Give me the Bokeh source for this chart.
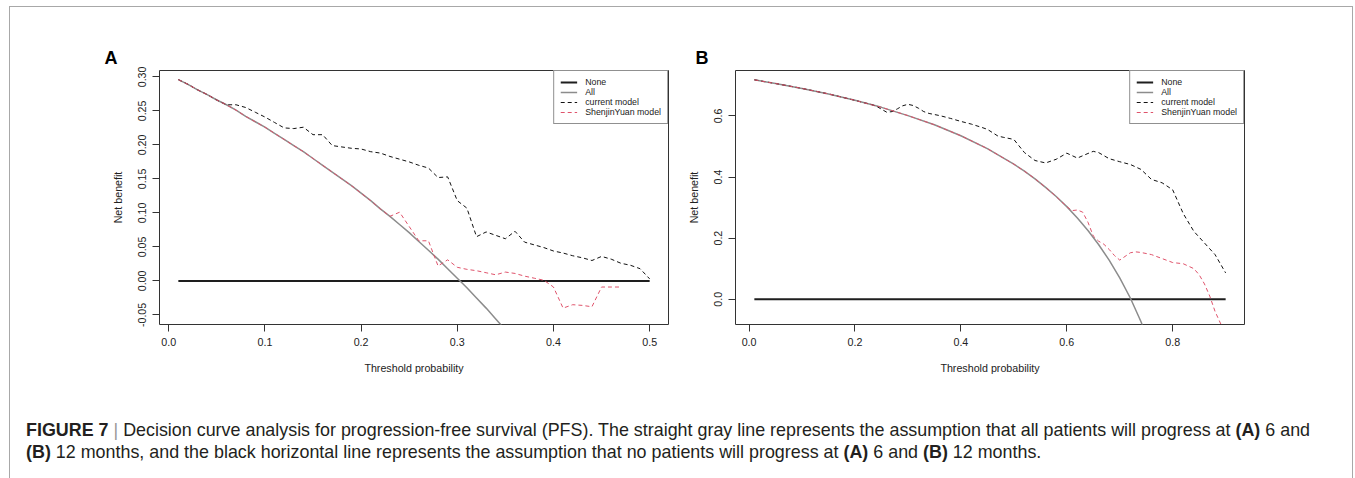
from bokeh.plotting import figure
from bokeh.models import Range1d, FixedTicker, Legend, LegendItem, Div
from bokeh.layouts import row, column
from bokeh.embed import file_html
from bokeh.resources import INLINE

FONT = "Liberation Sans"

# ---------------- Panel A (6 months) ----------------
thr_a_none = [0.01, 0.50]
nb_a_none = [0.0, 0.0]

thr_a_all = [0.01, 0.02, 0.03, 0.04, 0.05, 0.06, 0.07, 0.08, 0.09, 0.10, 0.11, 0.12,
             0.13, 0.14, 0.15, 0.16, 0.17, 0.18, 0.19, 0.20, 0.21, 0.22, 0.23, 0.24,
             0.25, 0.26, 0.27, 0.28, 0.29, 0.30, 0.31, 0.32, 0.33, 0.34, 0.35, 0.36]
nb_a_all = [0.296, 0.289, 0.281, 0.274, 0.266, 0.259, 0.251, 0.242, 0.234, 0.226, 0.217, 0.208,
            0.199, 0.190, 0.180, 0.170, 0.160, 0.150, 0.140, 0.129, 0.118, 0.106, 0.095, 0.083,
            0.071, 0.058, 0.045, 0.032, 0.018, 0.004, -0.010, -0.025, -0.040, -0.056, -0.072, -0.089]

thr_a_cur = [0.01, 0.02, 0.03, 0.04, 0.05, 0.06, 0.07, 0.08, 0.09, 0.10, 0.11, 0.12, 0.13,
             0.14, 0.15, 0.16, 0.17, 0.18, 0.19, 0.20, 0.21, 0.22, 0.23, 0.24, 0.25, 0.26,
             0.27, 0.28, 0.29, 0.30, 0.31, 0.32, 0.33, 0.34, 0.35, 0.36, 0.37, 0.38, 0.39,
             0.40, 0.41, 0.42, 0.43, 0.44, 0.45, 0.46, 0.47, 0.48, 0.49, 0.50]
nb_a_cur = [0.296, 0.289, 0.281, 0.274, 0.266, 0.259, 0.259, 0.255, 0.248, 0.241, 0.233, 0.225, 0.224,
            0.226, 0.215, 0.215, 0.199, 0.197, 0.195, 0.194, 0.190, 0.188, 0.183, 0.179, 0.175, 0.170,
            0.166, 0.152, 0.153, 0.118, 0.107, 0.065, 0.072, 0.067, 0.062, 0.073, 0.057, 0.053, 0.049,
            0.044, 0.041, 0.037, 0.034, 0.030, 0.036, 0.032, 0.026, 0.023, 0.018, 0.003]

thr_a_sjy = [0.01, 0.02, 0.03, 0.04, 0.05, 0.06, 0.07, 0.08, 0.09, 0.10, 0.11, 0.12, 0.13,
             0.14, 0.15, 0.16, 0.17, 0.18, 0.19, 0.20, 0.21, 0.22, 0.23, 0.24, 0.25, 0.26,
             0.27, 0.28, 0.29, 0.30, 0.31, 0.32, 0.33, 0.34, 0.35, 0.36, 0.37, 0.38, 0.39,
             0.40, 0.41, 0.42, 0.43, 0.44, 0.45, 0.46, 0.47]
nb_a_sjy = [0.296, 0.289, 0.281, 0.274, 0.266, 0.259, 0.251, 0.242, 0.234, 0.226, 0.217, 0.208, 0.199,
            0.190, 0.180, 0.170, 0.160, 0.150, 0.140, 0.129, 0.118, 0.106, 0.095, 0.101, 0.080, 0.059,
            0.059, 0.022, 0.031, 0.020, 0.017, 0.015, 0.012, 0.009, 0.013, 0.011, 0.007, 0.004, 0.001,
            -0.009, -0.040, -0.035, -0.036, -0.038, -0.009, -0.009, -0.009]

xticks_a = [0.0, 0.1, 0.2, 0.3, 0.4, 0.5]
xlabels_a = ["0.0", "0.1", "0.2", "0.3", "0.4", "0.5"]
yticks_a = [-0.05, 0.0, 0.05, 0.10, 0.15, 0.20, 0.25, 0.30]
ylabels_a = ["-0.05", "0.00", "0.05", "0.10", "0.15", "0.20", "0.25", "0.30"]

# ---------------- Panel B (12 months) ----------------
thr_b_none = [0.01, 0.90]
nb_b_none = [0.0, 0.0]

thr_b_all = [0.01, 0.05, 0.10, 0.15, 0.20, 0.25, 0.30, 0.35, 0.40, 0.45, 0.50, 0.52, 0.54,
             0.56, 0.58, 0.60, 0.62, 0.64, 0.66, 0.68, 0.70, 0.72, 0.74, 0.76]
nb_b_all = [0.718, 0.706, 0.690, 0.672, 0.651, 0.628, 0.601, 0.571, 0.535, 0.493, 0.442, 0.419, 0.394,
            0.366, 0.336, 0.303, 0.266, 0.225, 0.179, 0.128, 0.070, 0.004, -0.073, -0.163]

thr_b_cur = [0.01, 0.05, 0.10, 0.15, 0.20, 0.22, 0.23, 0.24, 0.25, 0.26, 0.27, 0.28, 0.29,
             0.30, 0.31, 0.32, 0.33, 0.34, 0.36, 0.38, 0.40, 0.42, 0.44, 0.45, 0.47, 0.48,
             0.50, 0.52, 0.54, 0.56, 0.58, 0.60, 0.62, 0.64, 0.65, 0.66, 0.68, 0.70, 0.72,
             0.74, 0.76, 0.78, 0.80, 0.82, 0.84, 0.86, 0.88, 0.90]
nb_b_cur = [0.718, 0.706, 0.690, 0.672, 0.651, 0.642, 0.638, 0.632, 0.622, 0.612, 0.614, 0.623, 0.633,
            0.638, 0.634, 0.625, 0.614, 0.608, 0.601, 0.592, 0.582, 0.573, 0.562, 0.556, 0.534, 0.530,
            0.523, 0.480, 0.454, 0.446, 0.458, 0.478, 0.462, 0.477, 0.484, 0.480, 0.460, 0.450, 0.441,
            0.425, 0.392, 0.381, 0.358, 0.280, 0.222, 0.184, 0.146, 0.086]

thr_b_sjy = [0.01, 0.05, 0.10, 0.15, 0.20, 0.25, 0.30, 0.35, 0.40, 0.45, 0.50, 0.52, 0.54,
             0.56, 0.58, 0.60, 0.61, 0.62, 0.63, 0.64, 0.65, 0.66, 0.67, 0.68, 0.69, 0.70,
             0.71, 0.72, 0.73, 0.74, 0.76, 0.78, 0.80, 0.82, 0.84, 0.85, 0.86, 0.87, 0.88,
             0.89, 0.90]
nb_b_sjy = [0.718, 0.706, 0.690, 0.672, 0.651, 0.628, 0.601, 0.571, 0.535, 0.493, 0.442, 0.419, 0.394,
            0.366, 0.336, 0.303, 0.290, 0.292, 0.285, 0.252, 0.207, 0.190, 0.180, 0.163, 0.143, 0.128,
            0.140, 0.152, 0.155, 0.153, 0.146, 0.133, 0.120, 0.116, 0.100, 0.080, 0.050, 0.010, -0.040,
            -0.078, -0.110]

xticks_b = [0.0, 0.2, 0.4, 0.6, 0.8]
xlabels_b = ["0.0", "0.2", "0.4", "0.6", "0.8"]
yticks_b = [0.0, 0.2, 0.4, 0.6]
ylabels_b = ["0.0", "0.2", "0.4", "0.6"]

series_names = ["None", "All", "current model", "ShenjinYuan model"]

COL_NONE = "#1e1e1e"
COL_ALL = "#8c8c8c"
COL_CUR = "#111111"
COL_SJY = "#DF536B"
TXT = "#222222"


def panel(letter, title_offset, none, allc, cur, sjy, xr, yr, xt, xl, yt, yl, width, mbl, mbr):
    p = figure(width=width, height=392, x_range=Range1d(*xr), y_range=Range1d(*yr),
               output_backend="svg", toolbar_location=None,
               min_border_left=mbl, min_border_right=mbr, min_border_top=70, min_border_bottom=68)
    p.border_fill_color = None
    p.background_fill_color = "white"
    p.outline_line_color = "#333333"
    p.outline_line_width = 1
    p.xgrid.visible = False
    p.ygrid.visible = False

    r_none = p.line(none[0], none[1], line_color=COL_NONE, line_width=2)
    r_all = p.line(allc[0], allc[1], line_color=COL_ALL, line_width=1.5)
    r_cur = p.line(cur[0], cur[1], line_color=COL_CUR, line_width=1, line_dash="4 3")
    r_sjy = p.line(sjy[0], sjy[1], line_color=COL_SJY, line_width=1, line_dash="4 3")

    for ax, ticks, labels in ((p.xaxis, xt, xl), (p.yaxis, yt, yl)):
        ax.ticker = FixedTicker(ticks=ticks)
        ax.major_label_overrides = dict(zip(ticks, labels))
        ax.axis_line_color = None
        ax.major_tick_line_color = "#333333"
        ax.major_tick_out = 7
        ax.major_tick_in = 0
        ax.minor_tick_line_color = None
        ax.major_label_text_font = FONT
        ax.major_label_text_font_size = "10.7px"
        ax.major_label_text_color = TXT
        ax.major_label_standoff = 6
        ax.axis_label_text_font = FONT
        ax.axis_label_text_font_size = "10.7px"
        ax.axis_label_text_font_style = "normal"
        ax.axis_label_text_color = TXT
    p.xaxis.axis_label = "Threshold probability"
    p.yaxis.axis_label = "Net benefit"
    p.xaxis.axis_label_standoff = 13
    p.yaxis.axis_label_standoff = 12
    p.yaxis.major_label_orientation = "vertical"

    p.title.text = letter
    p.title.text_font = FONT
    p.title.text_font_size = "18px"
    p.title.text_font_style = "bold"
    p.title.text_color = "#000000"
    p.title.align = "left"
    p.title.offset = title_offset
    p.title.standoff = 5

    legend = Legend(items=[LegendItem(label=series_names[0], renderers=[r_none]),
                           LegendItem(label=series_names[1], renderers=[r_all]),
                           LegendItem(label=series_names[2], renderers=[r_cur]),
                           LegendItem(label=series_names[3], renderers=[r_sjy])],
                    location="top_right", margin=0, padding=6, spacing=0,
                    label_height=10, glyph_height=10, glyph_width=17, label_standoff=8,
                    label_text_font=FONT, label_text_font_size="8.8px", label_text_color=TXT,
                    border_line_color="#222222", border_line_width=1,
                    background_fill_color="white", background_fill_alpha=1)
    p.add_layout(legend)
    return p


pA = panel("A", -55, (thr_a_none, nb_a_none), (thr_a_all, nb_a_all), (thr_a_cur, nb_a_cur),
           (thr_a_sjy, nb_a_sjy), (-0.0096, 0.5196), (-0.0641, 0.3094),
           xticks_a, xlabels_a, yticks_a, ylabels_a, 672, 159, 4)
pB = panel("B", -40, (thr_b_none, nb_b_none), (thr_b_all, nb_b_all), (thr_b_cur, nb_b_cur),
           (thr_b_sjy, nb_b_sjy), (-0.0256, 0.9356), (-0.0828, 0.7486),
           xticks_b, xlabels_b, yticks_b, ylabels_b, 667, 63, 95)

caption_html = (
    '<div style="position:fixed;left:9px;top:6px;width:1344px;height:600px;'
    'border:1px solid #a8a8a8;border-bottom:none;pointer-events:none;"></div>'
    '<div style="font-family:\'Liberation Sans\',Arial,sans-serif;font-size:17.9px;line-height:22px;'
    'color:#231f20;padding-left:21px;padding-top:22px;white-space:nowrap;">'
    '<b>FIGURE 7</b> <span style="color:#999">|</span> Decision curve analysis for progression-free survival (PFS). '
    'The straight gray line represents the assumption that all patients will progress at <b>(A)</b> 6 and<br>'
    '<b>(B)</b> 12 months, and the black horizontal line represents the assumption that no patients will '
    'progress at <b>(A)</b> 6 and <b>(B)</b> 12 months.</div>'
)
caption = Div(text=caption_html, width=1339, height=70)

layout = column(row(pA, pB), caption)

open("out.html", "w").write(file_html(layout, INLINE))
